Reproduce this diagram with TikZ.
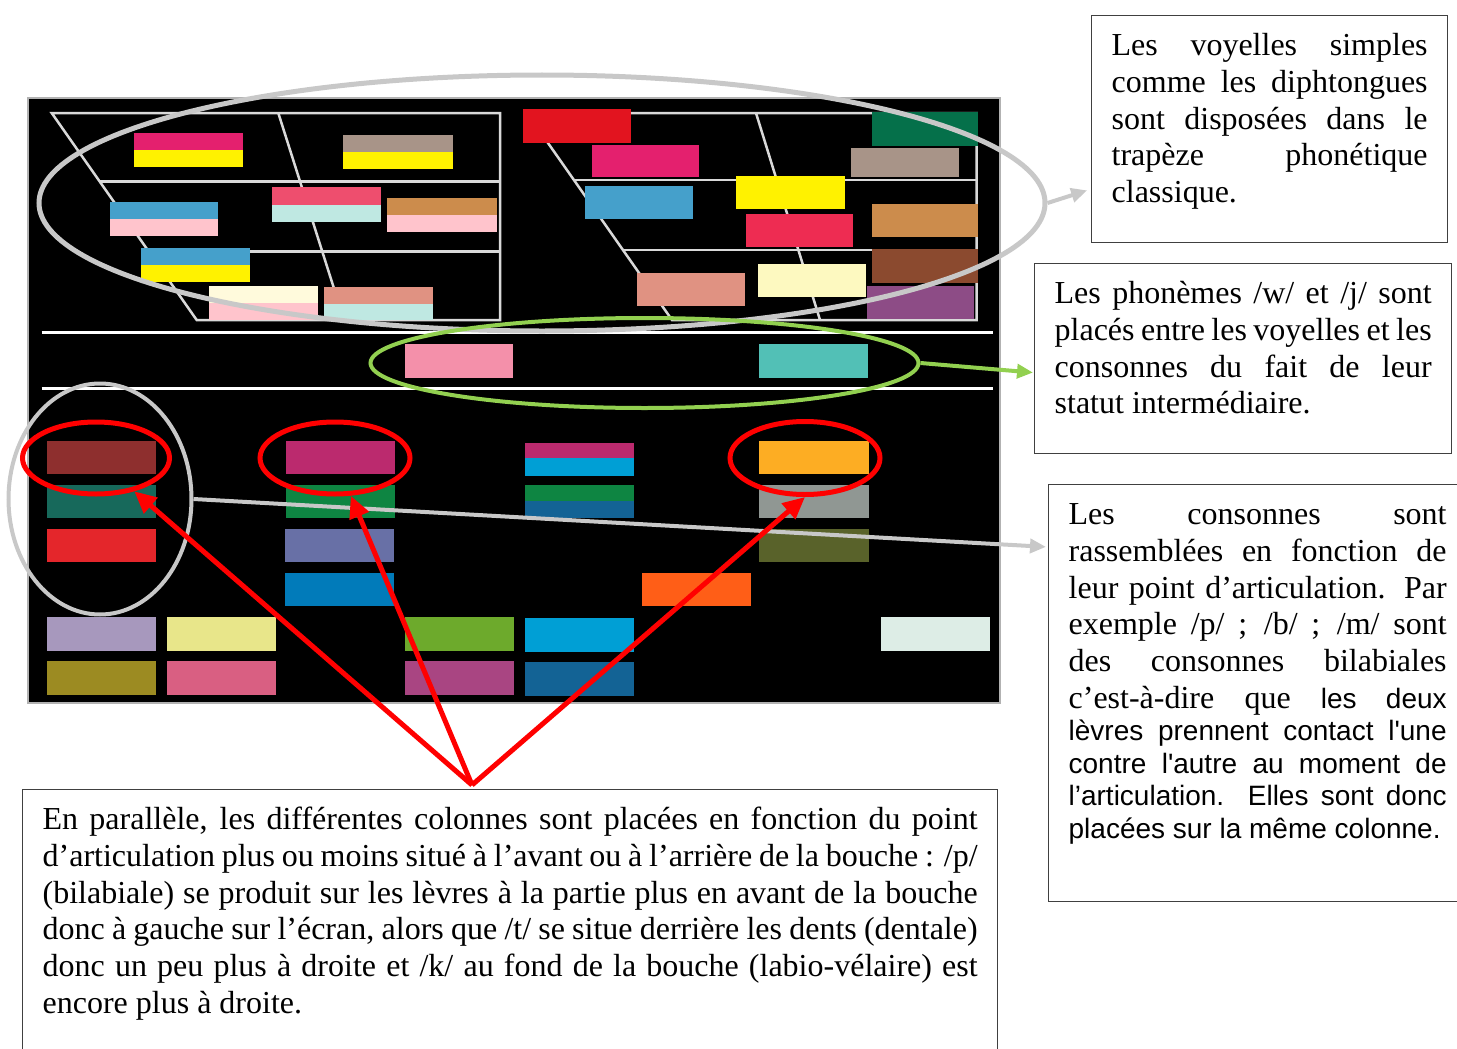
\documentclass[tikz,border=0pt]{standalone}
\usepackage{fontspec}
\setmainfont{Liberation Serif}
\setsansfont{Liberation Sans}
\usetikzlibrary{shapes.geometric,arrows.meta}

\definecolor{vpink}{HTML}{E4206E}
\definecolor{vyellow}{HTML}{FFF200}
\definecolor{vtaupe}{HTML}{A89488}
\definecolor{vblue}{HTML}{45A0CB}
\definecolor{vrose}{HTML}{FFC4CC}
\definecolor{vcoral}{HTML}{EE4E6E}
\definecolor{vmint}{HTML}{BFE8E2}
\definecolor{vtan}{HTML}{CC8C4C}
\definecolor{vcream}{HTML}{FFFADC}
\definecolor{vsalmon}{HTML}{E09282}
\definecolor{vred}{HTML}{E2141F}
\definecolor{vcrimson}{HTML}{EE2C52}
\definecolor{vpale}{HTML}{FDF9C0}
\definecolor{vgreen}{HTML}{05704A}
\definecolor{vbrown}{HTML}{8B4A2F}
\definecolor{vpurple}{HTML}{8D4C86}
\definecolor{spink}{HTML}{F490AA}
\definecolor{steal}{HTML}{52C0B6}
\definecolor{cmaroon}{HTML}{8E2F2E}
\definecolor{cteal}{HTML}{17695B}
\definecolor{cred}{HTML}{E4262B}
\definecolor{clilac}{HTML}{A798BD}
\definecolor{colive}{HTML}{9C8B22}
\definecolor{cyellow}{HTML}{E8E68A}
\definecolor{crose}{HTML}{D95F82}
\definecolor{cmagenta}{HTML}{BB2A6E}
\definecolor{cgreen}{HTML}{0E8542}
\definecolor{cslate}{HTML}{6870A6}
\definecolor{cblue}{HTML}{017BBA}
\definecolor{clime}{HTML}{6DAA2C}
\definecolor{cplum}{HTML}{A94582}
\definecolor{ccyan}{HTML}{009FD5}
\definecolor{cnavy}{HTML}{136395}
\definecolor{corange}{HTML}{FF5E17}
\definecolor{camber}{HTML}{FDAD23}
\definecolor{cgray}{HTML}{909793}
\definecolor{cmoss}{HTML}{59622A}
\definecolor{cice}{HTML}{DDEDE6}
\definecolor{ringgray}{HTML}{C8C8C8}
\definecolor{ringgreen}{HTML}{92D050}

\newcommand{\serifsize}{\fontsize{32}{36.8}\selectfont}
\newcommand{\sanssize}{\fontsize{28}{32.5}\selectfont}
\newcommand{\notetext}[3]{\parbox[t][#1][t]{#2}{\serifsize\tolerance=10000\hbadness=10000\hyphenpenalty=10000\strut #3}}

\begin{document}
\begin{tikzpicture}[x=1pt,y=-1pt,
	textbox/.style={draw=black!75,line width=1.3pt,anchor=north west,inner xsep=20pt,inner ysep=14pt},
	trap/.style={draw=white!85!black,line width=2.5pt},
	ring/.style={ellipse,draw,inner sep=0pt,line width=#1},
	pointer/.style={line width=4pt,-{Triangle[length=16pt,width=14pt]}},
	redpointer/.style={draw=red,line width=5pt,-{Triangle[length=22pt,width=20pt]}}]
	\useasboundingbox (0,0) rectangle (1457,1049);

	\draw[fill=black,draw=white!70!black,line width=1.5pt] (28,98) rectangle (1000,703);

	\draw[trap] (51.7,113) -- (500,113) -- (500,320) -- (196.7,320) -- cycle;
	\draw[trap] (99.8,181.7) -- (500,181.7);
	\draw[trap] (148.8,251.7) -- (500,251.7);
	\draw[trap] (278.3,113) -- (344,320);
	\draw[trap] (527,113) -- (976.7,113) -- (976.7,320) -- (672,320) -- cycle;
	\draw[trap] (574,180) -- (976.7,180);
	\draw[trap] (623,250) -- (976.7,250);
	\draw[trap] (756,113) -- (820,320);
	\draw[trap,draw=white,line width=3pt] (41.7,332.5) -- (993,332.5);
	\draw[trap,draw=white,line width=3pt] (41.7,388.3) -- (993,388.3);

	% voyelles, trapeze gauche
	\fill[vpink] (134,133) rectangle (243,150);
	\fill[vyellow] (134,150) rectangle (243,167);
	\fill[vtaupe] (343,135) rectangle (453,152);
	\fill[vyellow] (343,152) rectangle (453,169);
	\fill[vblue] (110,202) rectangle (218,219);
	\fill[vrose] (110,219) rectangle (218,236);
	\fill[vcoral] (272,187) rectangle (381,204.5);
	\fill[vmint] (272,204.5) rectangle (381,222);
	\fill[vtan] (387,198) rectangle (497,215);
	\fill[vrose] (387,215) rectangle (497,232);
	\fill[vblue] (141,248) rectangle (250,265);
	\fill[vyellow] (141,265) rectangle (250,282);
	\fill[vcream] (209,286) rectangle (318,303);
	\fill[vrose] (209,303) rectangle (318,320);
	\fill[vsalmon] (324,287) rectangle (433,303.5);
	\fill[vmint] (324,303.5) rectangle (433,320);

	% voyelles, trapeze droit
	\fill[vred] (523,109) rectangle (631,143);
	\fill[vpink] (592,145) rectangle (699,177);
	\fill[vblue] (585,186) rectangle (693,219);
	\fill[vyellow] (736,176) rectangle (845,209);
	\fill[vcrimson] (746,214) rectangle (853,247);
	\fill[vsalmon] (637,273) rectangle (745,306);
	\fill[vpale] (758,264) rectangle (866,297);
	\fill[vgreen] (872,112) rectangle (978,146);
	\fill[vtaupe] (851,148) rectangle (959,177);
	\fill[vtan] (872,204) rectangle (978,237);
	\fill[vbrown] (872,249) rectangle (978,283);
	\fill[vpurple] (867,286) rectangle (974,319);

	\fill[spink] (405,344) rectangle (513,378);
	\fill[steal] (759,344) rectangle (868,378);

	% consonnes
	\fill[cmaroon] (47,441) rectangle (156,474);
	\fill[cteal] (47,485) rectangle (156,518);
	\fill[cred] (47,529) rectangle (156,562);
	\fill[clilac] (47,617) rectangle (156,651);
	\fill[colive] (47,661) rectangle (156,695);
	\fill[cyellow] (167,617) rectangle (276,651);
	\fill[crose] (167,661) rectangle (276,695);
	\fill[cmagenta] (286,441) rectangle (395,474);
	\fill[cgreen] (286,485) rectangle (395,518);
	\fill[cslate] (285,529) rectangle (394,562);
	\fill[cblue] (285,573) rectangle (394,606);
	\fill[clime] (405,617) rectangle (514,651);
	\fill[cplum] (405,661) rectangle (514,695);
	\fill[cmagenta] (525,443) rectangle (634,458);
	\fill[ccyan] (525,458) rectangle (634,476);
	\fill[cgreen] (525,485) rectangle (634,501);
	\fill[cnavy] (525,501) rectangle (634,518);
	\fill[ccyan] (525,618) rectangle (634,652);
	\fill[cnavy] (525,662) rectangle (634,696);
	\fill[corange] (642,573) rectangle (751,606);
	\fill[camber] (759,441) rectangle (869,474);
	\fill[cgray] (759,485) rectangle (869,518);
	\fill[cmoss] (759,529) rectangle (869,562);
	\fill[cice] (881,617) rectangle (990,651);

	\node[textbox] (voyelles) at (1091,15) {\notetext{199pt}{316pt}{Les voyelles simples\linebreak comme les diphtongues\linebreak sont disposées dans le\linebreak trapèze phonétique\linebreak classique.}};
	\node[textbox] (glides) at (1034,263) {\notetext{162pt}{377pt}{Les phonèmes /w/ et /j/ sont\linebreak placés entre les voyelles et les\linebreak consonnes du fait de leur\linebreak statut intermédiaire.}};
	\node[textbox] (consonnes) at (1048,484) {\notetext{389pt}{378pt}{Les consonnes sont\linebreak rassemblées en fonction de\linebreak leur point d’articulation. Par\linebreak exemple /p/ ; /b/ ; /m/ sont\linebreak des consonnes bilabiales\linebreak c’est-à-dire que {\sffamily\sanssize les deux}\parfillskip=0pt\par
	\parfillskip=0pt plus 1fil\sffamily\sanssize lèvres prennent contact l\textquotesingle une\linebreak contre l\textquotesingle autre au moment de\linebreak l’articulation. Elles sont donc\linebreak placées sur la même colonne.}};
	\node[textbox] (colonnes) at (22,789) {\notetext{276pt}{935pt}{En parallèle, les différentes colonnes sont placées en fonction du point\linebreak d’articulation plus ou moins situé à l’avant ou à l’arrière de la bouche : /p/\linebreak (bilabiale) se produit sur les lèvres à la partie plus en avant de la bouche\linebreak donc à gauche sur l’écran, alors que /t/ se situe derrière les dents (dentale)\linebreak donc un peu plus à droite et /k/ au fond de la bouche (labio-vélaire) est\linebreak encore plus à droite.}};

	\node[ring=5pt,draw=ringgray,minimum width=1006pt,minimum height=256pt] (trapeze) at (542,203) {};
	\node[ring=4pt,draw=ringgreen,minimum width=548pt,minimum height=90pt] (semi) at (644.5,363) {};
	\node[ring=4pt,draw=ringgray,minimum width=183pt,minimum height=231pt] (bilab) at (100,499) {};
	\node[ring=5pt,draw=red,minimum width=147pt,minimum height=72pt] (colP) at (96,458) {};
	\node[ring=5pt,draw=red,minimum width=150pt,minimum height=72pt] (colT) at (335,458) {};
	\node[ring=5pt,draw=red,minimum width=150pt,minimum height=73pt] (colK) at (805,458) {};
	\coordinate (apex) at (472,785);

	\draw[pointer,draw=ringgray,shorten >=4pt] (trapeze.east) -- ([yshift=-60pt]voyelles.west);
	\draw[pointer,draw=ringgreen,shorten >=1pt] (semi.east) -- ([yshift=-14pt]glides.west);
	\draw[pointer,draw=ringgray,shorten >=2pt] (bilab.east) -- ([yshift=-63pt]consonnes.north west);
	\draw[redpointer] (apex) -- (colP);
	\draw[redpointer] (apex) -- (colT);
	\draw[redpointer] (apex) -- (colK.south);
\end{tikzpicture}
\end{document}
